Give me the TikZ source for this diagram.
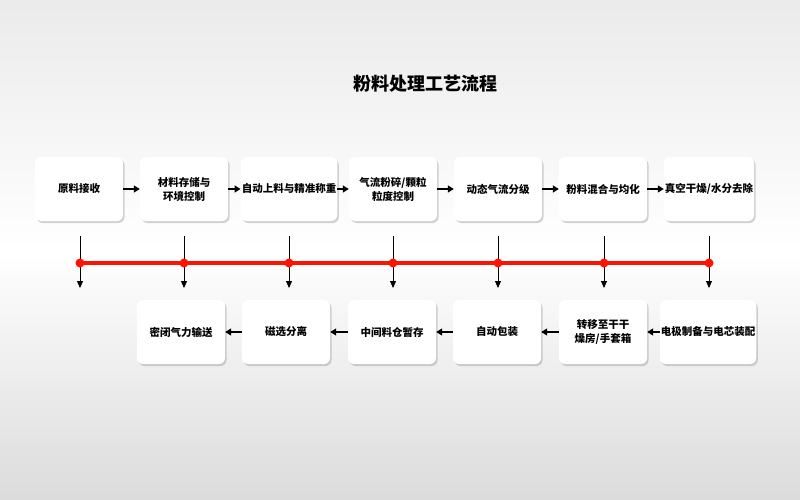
\documentclass[tikz,border=0pt]{standalone}
\usepackage{fontspec}
\setmainfont{Noto Sans CJK SC}
\usetikzlibrary{shadows,arrows.meta}
\begin{document}
\begin{tikzpicture}[x=1pt,y=-1pt,
 box/.style={draw=none,fill=white,rounded corners=6pt,minimum width=88pt,minimum height=64pt,align=center,font=\fontsize{10.5}{14}\selectfont\bfseries,drop shadow={shadow xshift=1.5pt,shadow yshift=-2pt,opacity=.35},inner sep=1pt},
 arr/.style={-{Triangle[length=6pt,width=7pt]},line width=1.3pt,black},
 varr/.style={-{Triangle[length=7pt,width=6pt]},line width=0.9pt,black},
 dot/.style={circle,fill=red!85!orange,inner sep=0pt,minimum size=9pt}]
\shade[top color=black!8,bottom color=black!14,middle color=white] (0,0) rectangle (800,500);
\useasboundingbox (0,0) rectangle (800,500);
\node[font=\fontsize{18}{21}\selectfont\bfseries] (title) at (425,84) {粉料处理工艺流程};
\foreach \n/\x/\t in {t1/79/原料接收,t2/184/{材料存储与\\环境控制},t3/289/自动上料与精准称重,t4/393/{气流粉碎/颗粒\\粒度控制},t5/498/动态气流分级,t6/603/粉料混合与均化,t7/709/{真空干燥/水分去除}}
 \node[box] (\n) at (\x,189) {\t};
\foreach \n/\x/\t in {b1/181/密闭气力输送,b2/286/磁选分离,b3/392/中间料仓暂存,b4/497/自动包装,b5/603/{转移至干干\\燥房/手套箱},b6/708/电极制备与电芯装配}
 \node[box] (\n) at (\x,332) {\t};
\foreach \a/\b in {t1/t2,t2/t3,t3/t4,t4/t5,t5/t6,t6/t7} \draw[arr] (\a.east) -- (\b.west);
\foreach \a/\b in {b6/b5,b5/b4,b4/b3,b3/b2,b2/b1} \draw[arr] (\a.west) -- (\b.east);
\foreach \i/\x in {1/80,2/184,3/289,4/393,5/498,6/604,7/709}{
 \coordinate (s\i) at (\x,236); \coordinate (e\i) at (\x,288); \coordinate (d\i) at (\x,263);
 \draw[varr] (s\i) -- (e\i);}
\draw[line width=4pt,red!85!orange] (d1) -- (d7);
\foreach \i in {1,...,7} \node[dot] at (d\i) {};
\end{tikzpicture}
\end{document}
